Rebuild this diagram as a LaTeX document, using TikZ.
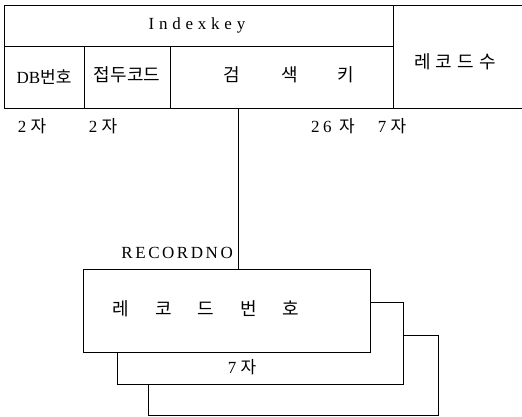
\documentclass[tikz,border=0pt]{standalone}
\usepackage{fontspec}
\setmainfont{Liberation Serif}
\newfontfamily\kr{Noto Sans CJK KR}
\begin{document}
\begin{tikzpicture}[x=1pt,y=-1pt,
  line/.style={draw=black,line width=1pt},
  txt/.style={inner sep=0pt,font=\fontsize{17}{19}\selectfont},
  krt/.style={inner sep=0pt,font=\kr\fontsize{18}{20}\selectfont}]
\useasboundingbox (0,0) rectangle (522,416);
% top table
\draw[line] (522,5) -- (4,5) -- (4,108) -- (522,108);
\draw[line] (4,46) -- (393,46);
\draw[line] (393,5) -- (393,108);
\draw[line] (84,46) -- (84,108);
\draw[line] (170,46) -- (170,108);
\node[txt] (ik) at (197,25) {\addfontfeature{LetterSpace=28}Indexkey};
\node[txt] (db) at (44,77) {DB{\kr 번호}};
\node[krt] (jd) at (127,75) {접두코드};
\node[krt] (k1) at (232,75) {검};
\node[krt] (k2) at (290,75) {색};
\node[krt] (k3) at (346,75) {키};
\node[krt] (rc) at (455,62) {레\hspace{5pt}코\hspace{5pt}드\hspace{5pt}수};
\node[txt] (s1) at (32,126) {2 {\kr 자}};
\node[txt] (s2) at (103,126) {2 {\kr 자}};
\node[txt] (s3) at (333,126) {\addfontfeature{LetterSpace=20}26 {\kr 자}};
\node[txt] (s4) at (392,126) {7 {\kr 자}};
% record boxes
\draw[line] (148,335) rectangle (438,415);
\draw[line,fill=white] (117,302) rectangle (403,384);
\draw[line,fill=white] (83,269) rectangle (370,352);
\coordinate (top) at (238,108);
\coordinate (bot) at (238,269);
\draw[line] (top) -- (bot);
\node[txt,anchor=east] (rn) at (233,253) {\addfontfeature{LetterSpace=15}RECORDNO};
\node[krt] (rb) at (206,309) {레\hspace{26pt}코\hspace{26pt}드\hspace{26pt}번\hspace{26pt}호};
\node[txt] (r7) at (242,367) {7 {\kr 자}};
\end{tikzpicture}
\end{document}
